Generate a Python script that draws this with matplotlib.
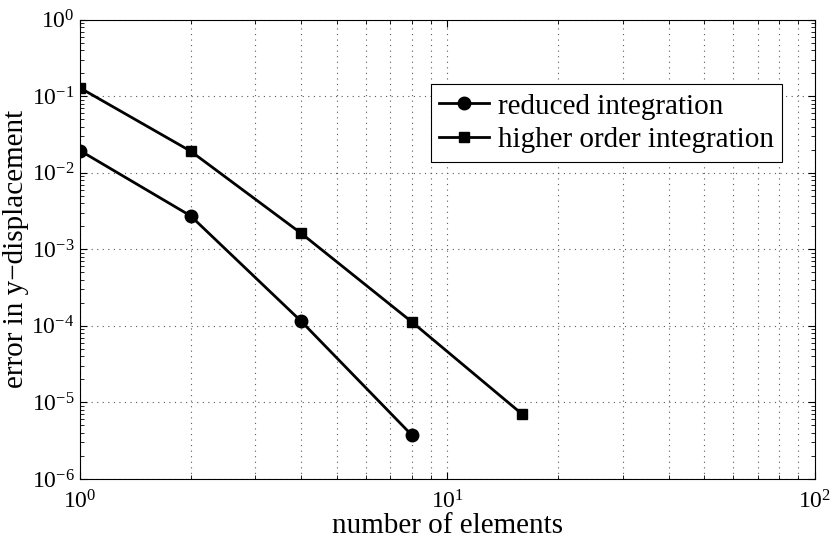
import matplotlib
matplotlib.use('Agg')
import matplotlib.pyplot as plt
from matplotlib.ticker import LogLocator, NullFormatter

plt.rcParams['font.family'] = ['Liberation Serif', 'DejaVu Serif']
plt.rcParams['mathtext.fontset'] = 'custom'
plt.rcParams['mathtext.rm'] = 'Liberation Serif'
plt.rcParams['mathtext.it'] = 'Liberation Serif:italic'

# data
n_reduced = [1, 2, 4, 8]
err_reduced = [0.0195, 0.00274, 1.15e-4, 3.75e-6]

n_higher = [1, 2, 4, 8, 16]
err_higher = [0.1285, 0.0192, 0.00162, 1.13e-4, 7.0e-6]

x_ticks = [1, 10, 100]
y_ticks = [1e-6, 1e-5, 1e-4, 1e-3, 1e-2, 1e-1, 1]

fig = plt.figure(figsize=(8.34, 5.41), dpi=100)
ax = fig.add_axes([0.0959, 0.1146, 0.881, 0.849])

ax.loglog(n_reduced, err_reduced, 'k-', marker='o', ms=9, lw=2,
          label='reduced integration')
ax.loglog(n_higher, err_higher, 'k-', marker='s', ms=7, lw=2,
          label='higher order integration')

ax.set_xticks(x_ticks)
ax.set_yticks(y_ticks)
ax.xaxis.set_minor_locator(LogLocator(base=10, subs=range(2, 10), numticks=20))
ax.yaxis.set_minor_locator(LogLocator(base=10, subs=range(2, 10), numticks=20))
ax.xaxis.set_minor_formatter(NullFormatter())
ax.yaxis.set_minor_formatter(NullFormatter())
ax.set_xlim(1, 100)
ax.set_ylim(1e-6, 1)

grid_style = dict(linestyle=(0, (1, 4)), color='0.35', lw=0.8)
ax.grid(True, which='major', axis='both', **grid_style)
ax.grid(True, which='minor', axis='x', **grid_style)

ax.tick_params(which='both', direction='in', top=True, right=True, labelsize=17)
ax.tick_params(which='major', length=5)
ax.tick_params(which='minor', length=3)
ax.tick_params(axis='x', pad=8)
ax.tick_params(axis='y', pad=4)

for s in ax.spines.values():
    s.set_linewidth(0.8)

ax.set_xlabel('number of elements', fontsize=21, labelpad=0)
ax.set_ylabel('error in y\u2212displacement', fontsize=21, labelpad=2)

leg = ax.legend(loc='upper right', bbox_to_anchor=(0.956, 0.859), borderaxespad=0,
                fontsize=21, fancybox=False, edgecolor='k', framealpha=1,
                handlelength=1.7, handletextpad=0.3, labelspacing=0.25,
                borderpad=0.3)
leg.get_frame().set_linewidth(0.8)

fig.savefig('out.png', dpi=100)
